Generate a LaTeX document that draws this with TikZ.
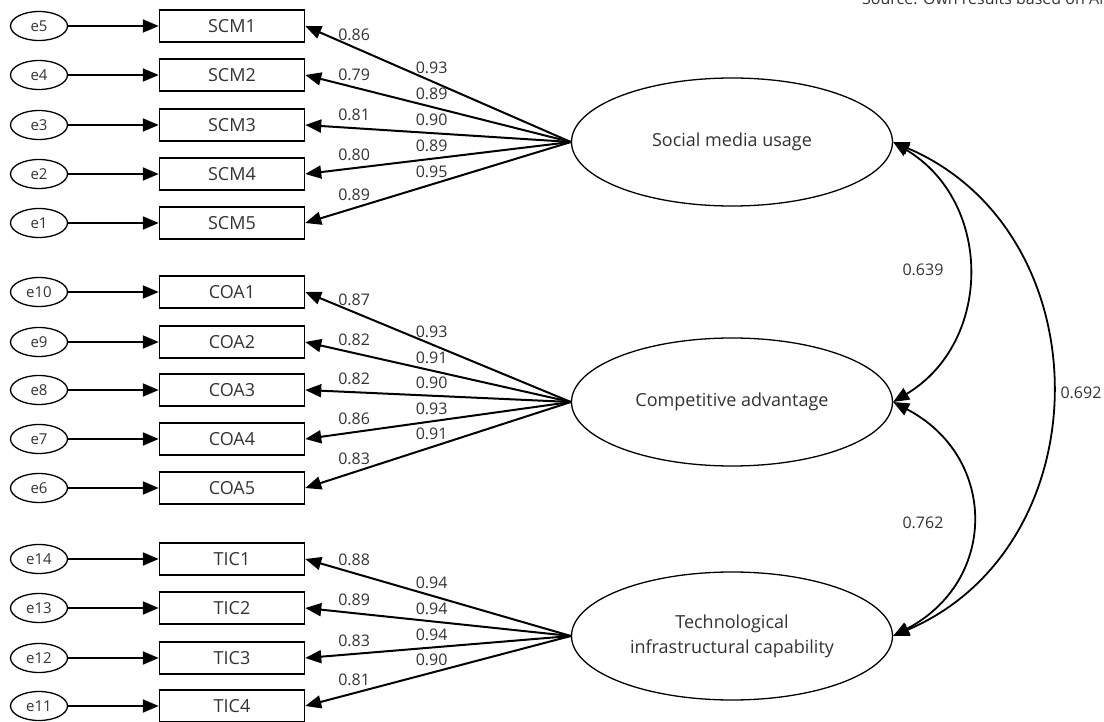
\documentclass[tikz,border=0pt]{standalone}
\usepackage{fontspec}
\setmainfont{Open Sans}
\usetikzlibrary{arrows.meta,shapes.geometric}

\tikzset{
  punta/.style={-{Triangle[length=16pt,width=13pt]}},
  flecha/.style={punta, line width=2pt},
  cov/.style={{Triangle[length=16pt,width=13pt]}-{Triangle[length=16pt,width=13pt]}, line width=1.8pt},
  error/.style={ellipse, draw, line width=1.3pt, minimum width=57pt, minimum height=29pt, inner sep=0pt,
    text=black!80, font=\fontsize{15}{18}\selectfont},
  indicador/.style={draw, line width=1.5pt, minimum width=145pt, minimum height=32pt, inner sep=0pt,
    text=black!80, font=\fontsize{18}{22}\selectfont},
  latente/.style={ellipse, draw, line width=1.3pt, minimum width=321pt, minimum height=128pt, inner sep=0pt,
    align=center, text=black!80, font=\fontsize{18}{25}\selectfont},
  carga/.style={inner sep=0pt, above=6pt, text=black!80, font=\fontsize{16}{19}\selectfont},
  coef/.style={inner sep=0pt, text=black!80, font=\fontsize{16}{19}\selectfont}
}

\begin{document}
\begin{tikzpicture}[x=1pt, y=-1pt]
    \useasboundingbox (0,0) rectangle (1104,722);
    \clip (0,0) rectangle (1104,722);

    % Fuente
    \node[coef, anchor=base west] (fuente) at (862,5) {Source: Own results based on AMOS};

    % Variables latentes
    \node[latente] (smu) at (732,142) {Social media usage};
    \node[latente] (ca)  at (732,402) {Competitive advantage};
    \node[latente] (tic) at (732,636) {Technological\\infrastructural capability};

    % Social media usage
    \foreach \i/\e/\y/\a/\b in {1/5/26/0.86/0.93, 2/4/75/0.79/0.89, 3/3/125/0.81/0.90,
                                4/2/174/0.80/0.89, 5/1/223/0.89/0.95} {
        \node[error] (e\e) at (39,\y) {e\e};
        \node[indicador] (SCM\i) at (232,\y) {SCM\i};
        \draw[flecha] (e\e.east) -- (SCM\i.west);
        \draw[flecha] (smu.west) -- node[carga, pos=0.524] (ms\i) {\b}
                                    node[carga, pos=0.816] (ns\i) {\a} (SCM\i.east);
    }

    % Competitive advantage
    \foreach \i/\e/\y/\a/\b in {1/10/292/0.87/0.93, 2/9/342/0.82/0.91, 3/8/390/0.82/0.90,
                                4/7/439/0.86/0.93, 5/6/488/0.83/0.91} {
        \node[error] (e\e) at (39,\y) {e\e};
        \node[indicador] (COA\i) at (232,\y) {COA\i};
        \draw[flecha] (e\e.east) -- (COA\i.west);
        \draw[flecha] (ca.west) -- node[carga, pos=0.524] (mc\i) {\b}
                                   node[carga, pos=0.816] (nc\i) {\a} (COA\i.east);
    }

    % Technological infrastructural capability
    \foreach \i/\e/\y/\a/\b in {1/14/559/0.88/0.94, 2/13/608/0.89/0.94,
                                3/12/658/0.83/0.94, 4/11/706/0.81/0.90} {
        \node[error] (e\e) at (39,\y) {e\e};
        \node[indicador] (TIC\i) at (232,\y) {TIC\i};
        \draw[flecha] (e\e.east) -- (TIC\i.west);
        \draw[flecha] (tic.west) -- node[carga, pos=0.524] (mt\i) {\b}
                                    node[carga, pos=0.816] (nt\i) {\a} (TIC\i.east);
    }

    % Covarianzas
    \draw[cov] (smu.east) .. controls (993,202) and (993,342) .. (ca.east);
    \draw[cov] (ca.east) .. controls (998,457) and (998,581) .. (tic.east);
    \draw[cov] (smu.east) .. controls (1104,232) and (1104,546) .. (tic.east);
    \node[coef] (r12) at (923,270) {0.639};
    \node[coef] (r23) at (923,523) {0.762};
    \node[coef] (r13) at (1081,393) {0.692};
\end{tikzpicture}
\end{document}
